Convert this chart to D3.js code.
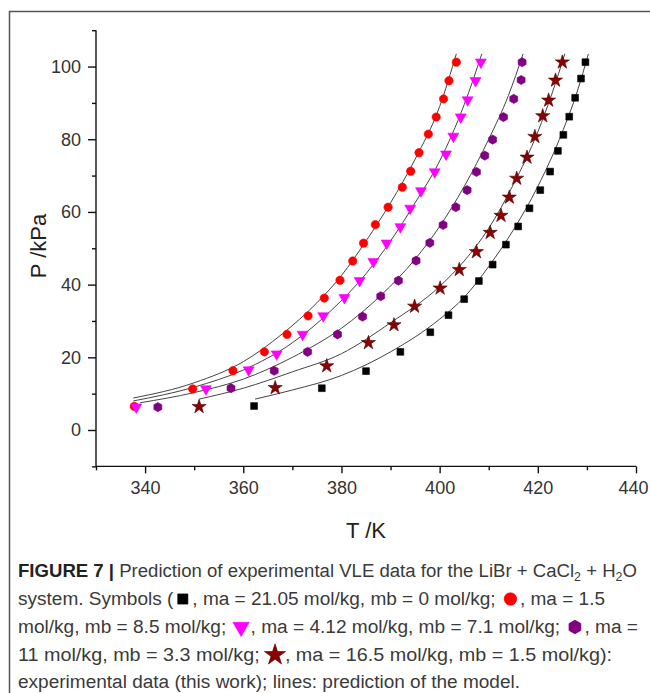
<!DOCTYPE html>
<html>
<head>
<meta charset="utf-8">
<script src="https://cdn.jsdelivr.net/npm/d3@7"></script>
<style>
  body { margin: 0; background: #fff; }
  svg { display: block; font-family: "Liberation Sans", Arial, sans-serif; }
  .axis path, .axis line { stroke: #111; stroke-width: 1.4; }
  .axis text { font-size: 18px; fill: #333; font-family: "Liberation Sans", Arial, sans-serif; }
  .model { fill: none; stroke: #444; stroke-width: 1; }
  .caption { font-size: 18px; fill: #3a3a3a; }
</style>
</head>
<body>
<svg id="chart"></svg>
<script>
// experimental points (T in K, P in kPa)
let blackT = [362.2, 376.0, 385.0, 392.0, 398.1, 401.8, 405.0, 408.0, 410.8, 413.5, 416.0, 418.3, 420.5, 422.5, 424.1, 425.2, 426.4, 427.6, 428.8, 429.7];
let blackP = [6.6, 11.5, 16.2, 21.5, 26.9, 31.6, 36.0, 41.0, 45.5, 51.0, 56.0, 61.0, 66.0, 71.1, 76.8, 81.2, 86.2, 91.4, 96.7, 101.2];

let redT = [337.8, 349.7, 357.9, 364.3, 368.9, 373.2, 376.5, 379.7, 382.3, 384.5, 386.9, 389.5, 392.4, 394.1, 395.8, 397.7, 399.3, 400.8, 401.9, 403.4];
let redP = [6.5, 11.3, 16.3, 21.5, 26.3, 31.4, 36.3, 41.2, 46.5, 51.4, 56.5, 61.3, 66.8, 71.2, 76.3, 81.4, 86.1, 91.1, 96.1, 101.2];

let magentaT = [338.2, 352.4, 361.1, 366.8, 372.1, 376.3, 380.6, 383.7, 386.5, 389.2, 392.0, 394.0, 396.2, 399.0, 401.3, 402.8, 404.3, 405.7, 407.3, 408.4];
let magentaP = [6.3, 11.3, 16.5, 20.9, 26.3, 31.4, 36.4, 41.1, 46.3, 51.4, 55.9, 61.0, 65.8, 71.0, 75.9, 80.8, 86.1, 90.8, 96.1, 101.2];

let purpleT = [342.6, 357.5, 366.3, 373.1, 379.2, 384.3, 388.0, 391.6, 395.2, 398.0, 400.7, 403.3, 405.6, 407.5, 409.2, 410.8, 413.0, 415.1, 416.6, 416.8];
let purpleP = [6.3, 11.5, 16.3, 21.5, 26.3, 31.2, 36.8, 41.1, 46.6, 51.5, 56.4, 61.3, 66.0, 71.0, 75.5, 79.9, 86.1, 91.1, 96.3, 101.2];

let starT = [351.0, 366.5, 377.0, 385.5, 390.7, 394.9, 400.1, 404.0, 407.5, 410.3, 412.5, 414.2, 415.7, 417.8, 419.4, 421.0, 422.2, 423.6, 425.0];
let starP = [6.4, 11.6, 17.6, 24.0, 28.9, 34.0, 39.0, 44.1, 49.0, 54.3, 59.0, 64.0, 69.2, 75.0, 80.7, 86.4, 90.7, 96.2, 101.2];

// model lines (knots)
let blackLineT = [362.4, 370, 380, 390, 400, 405, 410, 415, 420, 425, 428, 430.3];
let blackLineP = [8.5, 11.0, 15.0, 21.5, 30.5, 36.5, 45.0, 55.0, 67.0, 82.0, 93.0, 103.5];

let redLineT = [337.6, 350, 360, 368, 375, 380, 385, 390, 395, 400, 403.4];
let redLineP = [8.8, 13.0, 18.8, 26.5, 35.0, 42.5, 52.0, 62.5, 74.5, 89.0, 103.5];

let magentaLineT = [337.6, 350, 360, 370, 378, 385, 390, 395, 400, 405, 408.6];
let magentaLineP = [8.0, 11.8, 16.5, 24.0, 33.0, 43.0, 52.0, 62.5, 74.0, 89.5, 103.5];

let purpleLineT = [339, 350, 360, 370, 380, 388, 395, 400, 405, 410, 414, 417];
let purpleLineP = [7.5, 10.3, 14.0, 20.0, 28.0, 37.0, 47.0, 56.0, 67.0, 80.0, 92.0, 103.5];

let starLineT = [351, 360, 370, 380, 390, 400, 405, 410, 415, 420, 423, 425.5];
let starLineP = [8.5, 11.5, 16.0, 21.0, 29.5, 39.5, 46.5, 55.5, 67.5, 82.0, 93.0, 103.5];

let xTicks = [330, 340, 350, 360, 370, 380, 390, 400, 410, 420, 430, 440];
let yTicks = [-10, 0, 10, 20, 30, 40, 50, 60, 70, 80, 90, 100, 110];

let series = [
  { name: 'black', T: blackT, P: blackP, lineT: blackLineT, lineP: blackLineP, shape: 'square', fill: '#000', stroke: '#000' },
  { name: 'red', T: redT, P: redP, lineT: redLineT, lineP: redLineP, shape: 'circle', fill: '#ff0000', stroke: '#ff0000' },
  { name: 'magenta', T: magentaT, P: magentaP, lineT: magentaLineT, lineP: magentaLineP, shape: 'triangle', fill: '#ff00ff', stroke: '#ff00ff' },
  { name: 'purple', T: purpleT, P: purpleP, lineT: purpleLineT, lineP: purpleLineP, shape: 'hexagon', fill: '#800080', stroke: '#800080' },
  { name: 'star', T: starT, P: starP, lineT: starLineT, lineP: starLineP, shape: 'star', fill: '#8b0000', stroke: '#4a0000' }
];

// svg / plot configuration
let config = { svg: { width: 650, height: 693 }, plot: {} };
config.plot.left = 96;
config.plot.right = 636;
config.plot.bottom = 466.35;
config.plot.top = 30.2;

let svg = d3.select('svg#chart')
  .attr('width', config.svg.width)
  .attr('height', config.svg.height);

// frame around figure + caption
svg.append('rect')
  .attr('x', 9.5).attr('y', 11.5)
  .attr('width', 700).attr('height', 700)
  .attr('fill', 'none')
  .attr('stroke', '#555')
  .attr('stroke-width', 1.5);

let scale = {};
scale.x = d3.scaleLinear().domain([330, 440]).range([config.plot.left, config.plot.right]);
scale.y = d3.scaleLinear().domain([-10, 110]).range([config.plot.bottom, config.plot.top]);

// axes
let axis = {};
axis.x = d3.axisBottom(scale.x).tickValues(xTicks).tickSize(7).tickPadding(8)
  .tickFormat(d => d % 20 === 0 ? d : '');
axis.y = d3.axisLeft(scale.y).tickValues(yTicks).tickSize(8).tickPadding(7)
  .tickFormat(d => d % 20 === 0 ? d : '');

let gx = svg.append('g').attr('class', 'axis').attr('transform', translate(0, config.plot.bottom)).call(axis.x);
gx.select('.domain').attr('d', 'M' + config.plot.left + ',0H' + config.plot.right);
gx.selectAll('.tick').filter(d => d % 20 !== 0).select('line').attr('y2', 4);
// keep the last label inside the page
gx.selectAll('.tick').filter(d => d === 440).select('text').attr('x', -3);

let gy = svg.append('g').attr('class', 'axis').attr('transform', translate(config.plot.left, 0)).call(axis.y);
gy.select('.domain').attr('d', 'M0,' + config.plot.top + 'V' + config.plot.bottom);
gy.selectAll('.tick').filter(d => d % 20 !== 0).select('line').attr('x2', -4);

// axis titles
svg.append('text')
  .attr('x', 366).attr('y', 538)
  .attr('text-anchor', 'middle')
  .style('font-size', '22px').style('fill', '#222')
  .text('T /K');

svg.append('text')
  .attr('transform', 'translate(46,246) rotate(-90)')
  .attr('text-anchor', 'middle')
  .style('font-size', '22px').style('fill', '#222')
  .text('P /kPa');

// model lines
let line = d3.line()
  .x(d => scale.x(d[0]))
  .y(d => scale.y(d[1]))
  .curve(d3.curveMonotoneX);

let plot = svg.append('g').attr('id', 'plot');

plot.selectAll('path.model')
  .data(series)
  .enter()
  .append('path')
  .attr('class', 'model')
  .attr('d', s => line(d3.zip(s.lineT, s.lineP)));

// marker shapes
function hexagon(r) {
  let p = d3.path();
  for (let i = 0; i < 6; i++) {
    let a = Math.PI / 3 * i - Math.PI / 2;
    if (i === 0) p.moveTo(r * Math.cos(a), r * Math.sin(a));
    else p.lineTo(r * Math.cos(a), r * Math.sin(a));
  }
  p.closePath();
  return p.toString();
}

function markerPath(shape, k) {
  switch (shape) {
    case 'square': return d3.symbol(d3.symbolSquare, 46 * k * k)();
    case 'circle': return d3.symbol(d3.symbolCircle, 55 * k * k)();
    case 'triangle': return d3.symbol(d3.symbolTriangle, 52 * k * k)();
    case 'hexagon': return hexagon(4.6 * k);
    case 'star': return d3.symbol(d3.symbolStar, 62 * k * k)();
  }
}

let groups = plot.selectAll('g.series')
  .data(series)
  .enter()
  .append('g')
  .attr('class', 'series');

groups.each(function(s) {
  d3.select(this).selectAll('path')
    .data(d3.zip(s.T, s.P))
    .enter()
    .append('path')
    .attr('d', markerPath(s.shape, 1))
    .attr('transform', d => translate(scale.x(d[0]), scale.y(d[1])) + (s.shape === 'triangle' ? ' rotate(180)' : ''))
    .attr('fill', s.fill)
    .attr('stroke', s.stroke)
    .attr('stroke-width', 0.6);
});

// caption
let captionLines = [
  { y: 577, len: 619, parts: [['b', 'FIGURE 7 |'], ['t', ' Prediction of experimental VLE data for the LiBr + CaCl'], ['s', '2'], ['t', ' + H'], ['s', '2'], ['t', 'O']] },
  { y: 605, len: 587, parts: [['t', 'system. Symbols ('], ['m', 0], ['t', ', ma = 21.05 mol/kg, mb = 0 mol/kg; '], ['m', 1], ['t', ', ma = 1.5']] },
  { y: 633, len: 620, parts: [['t', 'mol/kg, mb = 8.5 mol/kg; '], ['m', 2], ['t', ', ma = 4.12 mol/kg, mb = 7.1 mol/kg; '], ['m', 3], ['t', ', ma =']] },
  { y: 661, len: 594, parts: [['t', '11 mol/kg, mb = 3.3 mol/kg; '], ['m', 4], ['t', ', ma = 16.5 mol/kg, mb = 1.5 mol/kg):']] },
  { y: 688, len: 502, parts: [['t', 'experimental data (this work); lines: prediction of the model.']] }
];

let caption = svg.append('g').attr('class', 'caption');

captionLines.forEach(function(cl) {
  let text = caption.append('text')
    .attr('x', 18).attr('y', cl.y)
    .attr('textLength', cl.len)
    .attr('lengthAdjust', 'spacingAndGlyphs');
  cl.parts.forEach(function(p) {
    let ts = text.append('tspan');
    if (p[0] === 'b') ts.style('font-weight', 'bold').style('fill', '#222').text(p[1]);
    else if (p[0] === 's') ts.style('font-size', '12px').attr('dy', 4).text(p[1]);
    else if (p[0] === 'm') ts.attr('class', 'sym').datum(p[1]).text('\u2002\u2002');
    else ts.text(p[1]);
    // undo subscript shift on the following tspan
    if (p[0] !== 's' && text.selectAll('tspan').size() > 1) {
      let prev = text.selectAll('tspan').nodes();
      let before = prev[prev.length - 2];
      if (d3.select(before).attr('dy') === '4') ts.attr('dy', -4);
    }
  });
});

// draw the symbols placed inside the caption text
caption.selectAll('tspan.sym').each(function(i) {
  let s = series[i];
  let start = this.getStartPositionOfChar(0);
  let end = this.getEndPositionOfChar(1);
  let cx = (start.x + end.x) / 2;
  let cy = start.y - 6;
  caption.append('path')
    .attr('d', markerPath(s.shape, 1.5))
    .attr('transform', translate(cx, cy) + (s.shape === 'triangle' ? ' rotate(180)' : ''))
    .attr('fill', s.fill)
    .attr('stroke', s.stroke)
    .attr('stroke-width', 0.6);
});

// helper method to make translating easier
function translate(x, y) {
  return 'translate(' + x + ',' + y + ')';
}
</script>
</body>
</html>
